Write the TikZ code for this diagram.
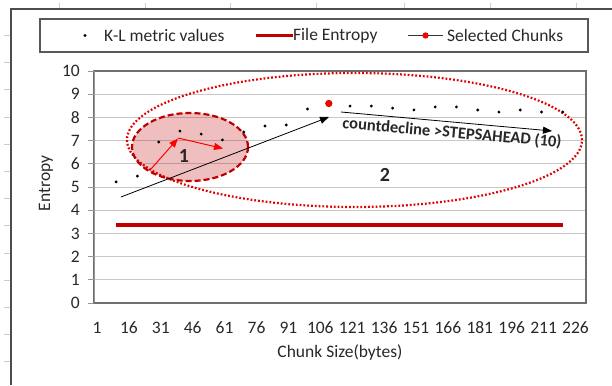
\documentclass[tikz,border=0pt]{standalone}
\usepackage{fontspec}
\setmainfont{Carlito}
\usetikzlibrary{arrows.meta,shapes.geometric}
\definecolor{darkred}{RGB}{192,0,0}
\definecolor{brightred}{RGB}{225,0,0}
\definecolor{gridgray}{RGB}{200,200,200}
\definecolor{axisgray}{RGB}{150,150,150}
\definecolor{framegray}{RGB}{110,110,110}
\definecolor{cellgray}{RGB}{205,205,205}
\definecolor{txtgray}{RGB}{40,40,40}
\begin{document}
\begin{tikzpicture}[x=1pt,y=1pt,
  font=\fontsize{17.5}{20}\selectfont,
  every node/.style={text=txtgray},
  kl/.style={circle,fill=black,inner sep=0pt,minimum size=3.2pt},
  sel/.style={circle,fill=red,draw=red!75!black,line width=0.6pt,inner sep=0pt,minimum size=6.5pt},
  grid/.style={gridgray,line width=0.9pt},
  entline/.style={darkred,line width=3.2pt},
  redarrow/.style={red,line width=1pt,-{Triangle[length=9pt,width=7pt]}},
  blkarrow/.style={black,line width=0.8pt,-{Triangle[length=9pt,width=7pt]}},
  ylab/.style={anchor=east,inner sep=0pt},
  xlab/.style={inner sep=0pt},
  bigell/.style={ellipse,draw=brightred,line width=2.2pt,dash pattern=on 1.8pt off 2pt,inner sep=0pt},
  smallell/.style={ellipse,draw=darkred,line width=2.2pt,dash pattern=on 6pt off 3pt,fill=darkred,fill opacity=0.25,inner sep=0pt}
]
\useasboundingbox (0,0) rectangle (612,385);
% sheet cell marks and outer frame
\foreach \xx in {59,145,230,316,404,490,576} \draw[cellgray,line width=0.8pt] (\xx,382) -- (\xx,376);
\foreach \yy in {35,62,89,117,144,171,198,225,253,280,307,334,361} \draw[cellgray,line width=0.8pt] (4,385-\yy) -- (11,385-\yy);
\draw[framegray!70!black,line width=1.3pt] (11,0) -- (11,376) -- (612,376);
% legend
\node[draw=framegray!80!black,line width=1.5pt,minimum width=548pt,minimum height=33pt,inner sep=0pt] (legend) at (314,349.5) {};
\node[kl] (lgdot) at (85,349.5) {};
\node[anchor=west,inner sep=0pt] (lgkl) at (104,349.5) {K-L metric values};
\coordinate (lgea) at (256,349.5);
\coordinate (lgeb) at (293,349.5);
\draw[entline] (lgea) -- (lgeb);
\node[anchor=west,inner sep=0pt] (lgent) at (293,349.5) {File Entropy};
\coordinate (lgsa) at (408,349.5);
\coordinate (lgsb) at (443,349.5);
\draw[black!80,line width=0.8pt] (lgsa) -- (lgsb);
\node[sel,minimum size=5.5pt] (lgsel) at (425.5,349.5) {};
\node[anchor=west,inner sep=0pt] (lgseltxt) at (447,349.5) {Selected Chunks};
% plot area grid
\foreach \e in {1,...,9} \draw[grid] (94,82+23.2*\e) -- (586,82+23.2*\e);
\draw[framegray,line width=1.2pt] (94,82) rectangle (586,314);
\draw[axisgray,line width=1pt] (94,82) -- (94,314);
\draw[framegray,line width=1.2pt] (94,82) -- (586,82);
\foreach \e in {0,...,10} {
  \draw[axisgray,line width=0.9pt] (88,82+23.2*\e) -- (94,82+23.2*\e);
  \node[ylab] (yl\e) at (80,82+23.2*\e) {\e};
}
\foreach \v [count=\i from 0] in {1,16,31,46,61,76,91,106,121,136,151,166,181,196,211,226}
  \node[xlab] (xl\i) at (97+31.9*\i,57) {\v};
\node[rotate=90] (ytitle) at (46,201.5) {Entropy};
\node (xtitle) at (340,32) {Chunk Size(bytes)};
% ellipses
\node[bigell,minimum width=455pt,minimum height=134pt] (ell2) at (354.5,245) {};
\node[smallell,minimum width=116pt,minimum height=68pt] (ell1) at (190,238) {};
% data
\begin{scope}[shift={(94.87,82)},x=2.1267pt,y=23.2pt]
\coordinate (fa) at (10,3.36);
\coordinate (fb) at (220,3.36);
\draw[entline] (fa) -- (fb);
\foreach \v/\e in {10/5.22,20/5.47,30/6.94,40/7.41,50/7.28,60/7.03,70/7.37,80/7.63,90/7.67,100/8.36,
  120/8.49,130/8.49,140/8.40,150/8.32,160/8.45,170/8.45,180/8.32,190/8.23,200/8.32,210/8.23,220/8.23}
  \node[kl] (p\v) at (\v,\e) {};
\node[sel] (p110) at (110,8.6) {};
\end{scope}
% arrows
\coordinate (ra) at (151,216);
\coordinate (rb) at (178,246.5);
\coordinate (rc) at (178,247);
\coordinate (rd) at (223,236.5);
\draw[redarrow] (ra) -- (rb);
\draw[redarrow] (rc) -- (rd);
\coordinate (ba) at (121,188);
\coordinate (bb) at (329,268);
\draw[blkarrow] (ba) -- (bb);
\coordinate (bc) at (341,273);
\coordinate (bd) at (552,254);
\draw[blkarrow] (bc) -- (bd);
\node[rotate=-5,font=\fontsize{16.5}{19}\selectfont\bfseries] (cdl) at (452,252) {countdecline >STEPSAHEAD (10)};
\node[font=\fontsize{20}{23}\selectfont\bfseries] (one) at (184,229) {1};
\node[font=\fontsize{20}{23}\selectfont\bfseries] (two) at (385,210) {2};
\end{tikzpicture}
\end{document}
